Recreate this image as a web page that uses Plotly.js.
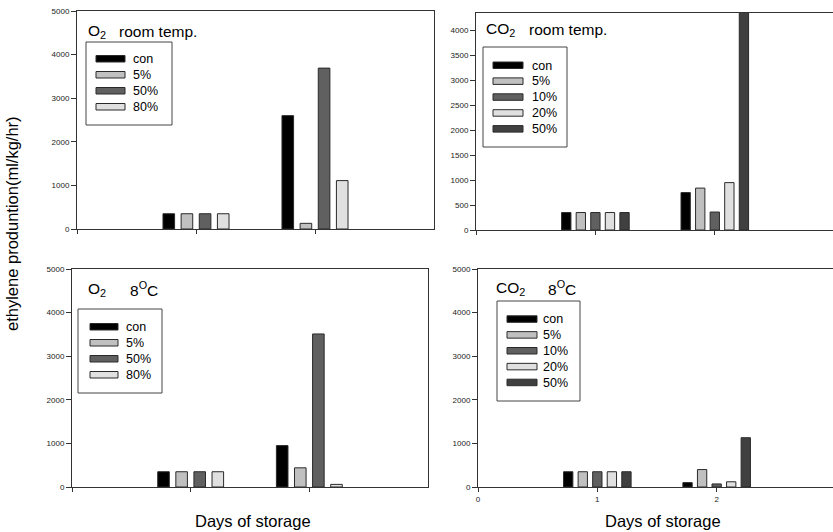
<!DOCTYPE html>
<html>
<head>
<meta charset="utf-8">
<script src="https://cdn.plot.ly/plotly-3.0.1.min.js"></script>
<style>
  html, body { margin: 0; padding: 0; background: #ffffff; }
  #chart { width: 833px; height: 532px; }
</style>
</head>
<body>
<div id="chart"></div>
<script>
// Storage days on the x axis
const days = [1, 2];
const xTickVals = [0, 1, 2];
const xTickText = ['0', '1', '2'];

// Treatment levels
const o2Levels = ['con', '5%', '50%', '80%'];
const co2Levels = ['con', '5%', '10%', '20%', '50%'];

// Ethylene production (ml/kg/hr) — O2, room temperature
const o2RoomCon = [350, 2600];
const o2Room5 = [350, 130];
const o2Room50 = [350, 3690];
const o2Room80 = [350, 1110];

// CO2, room temperature (the 50% bar on day 2 runs past the top of the axis)
const co2RoomCon = [350, 750];
const co2Room5 = [350, 840];
const co2Room10 = [350, 360];
const co2Room20 = [350, 950];
const co2Room50 = [350, 4600];

// O2, 8 °C
const o2ColdCon = [350, 950];
const o2Cold5 = [350, 440];
const o2Cold50 = [350, 3510];
const o2Cold80 = [350, 60];

// CO2, 8 °C
const co2ColdCon = [350, 100];
const co2Cold5 = [350, 400];
const co2Cold10 = [350, 70];
const co2Cold20 = [350, 120];
const co2Cold50 = [350, 1130];

// Grey fills per level
const o2Colors = ['#000000', '#c0c0c0', '#606060', '#e0e0e0'];
const co2Colors = ['#000000', '#c0c0c0', '#606060', '#e0e0e0', '#404040'];

const W = 833, H = 532;
const fx = p => p / W;
const fy = p => 1 - p / H;
const FONT = 'Arial, "Liberation Sans", sans-serif';

// Panel geometry in pixels
const panels = [
  { ax: 1, x0: 77, x1: 434, y0: 11, y1: 229, xmax: 3, ymax: 5000, dtick: 1000, mirrorY: true, showX: false,
    levels: o2Levels, colors: o2Colors, series: [o2RoomCon, o2Room5, o2Room50, o2Room80],
    gas: 'O<sub>2</sub>', gasX: 86, cond: 'room temp.', condX: 117, titleY: 31,
    leg: { x0: 86, x1: 172, y0: 42, y1: 125, sx0: 96, sx1: 125, tx: 131, r0: 59, step: 16 } },
  { ax: 2, x0: 476, x1: 833, y0: 13, y1: 230, xmax: 2.99, ymax: 4350, dtick: 500, mirrorY: false, showX: false,
    levels: co2Levels, colors: co2Colors, series: [co2RoomCon, co2Room5, co2Room10, co2Room20, co2Room50],
    gas: 'CO<sub>2</sub>', gasX: 484, cond: 'room temp.', condX: 527, titleY: 29,
    leg: { x0: 483, x1: 567, y0: 47, y1: 147, sx0: 493, sx1: 523, tx: 530, r0: 65.5, step: 15.9 } },
  { ax: 3, x0: 72, x1: 428, y0: 269, y1: 487, xmax: 3, ymax: 5000, dtick: 1000, mirrorY: true, showX: false,
    levels: o2Levels, colors: o2Colors, series: [o2ColdCon, o2Cold5, o2Cold50, o2Cold80],
    gas: 'O<sub>2</sub>', gasX: 86, cond: '8<sup>O</sup>C', condX: 128, titleY: 289,
    leg: { x0: 78, x1: 162, y0: 309, y1: 393, sx0: 90, sx1: 118, tx: 124, r0: 327, step: 16 } },
  { ax: 4, x0: 478, x1: 833, y0: 269, y1: 487, xmax: 2.975, ymax: 5000, dtick: 1000, mirrorY: false, showX: true,
    levels: co2Levels, colors: co2Colors, series: [co2ColdCon, co2Cold5, co2Cold10, co2Cold20, co2Cold50],
    gas: 'CO<sub>2</sub>', gasX: 494, cond: '8<sup>O</sup>C', condX: 546, titleY: 288,
    leg: { x0: 497, x1: 580, y0: 301, y1: 401, sx0: 507, sx1: 537, tx: 541, r0: 319.3, step: 15.85 } }
];

const traces = [];
const layout = {
  width: W, height: H,
  margin: { l: 0, r: 0, t: 0, b: 0 },
  paper_bgcolor: '#ffffff', plot_bgcolor: '#ffffff',
  showlegend: false,
  barmode: 'group',
  bargap: 0.39,
  bargroupgap: 0.36,
  font: { family: FONT, color: '#000000' },
  shapes: [],
  annotations: []
};

panels.forEach(p => {
  const xa = 'x' + (p.ax === 1 ? '' : p.ax);
  const ya = 'y' + (p.ax === 1 ? '' : p.ax);
  const xKey = 'xaxis' + (p.ax === 1 ? '' : p.ax);
  const yKey = 'yaxis' + (p.ax === 1 ? '' : p.ax);

  p.series.forEach((vals, i) => {
    traces.push({
      type: 'bar', x: days, y: vals, name: p.levels[i],
      xaxis: xa, yaxis: ya,
      marker: { color: p.colors[i], line: { color: '#2a2a2a', width: 1 } },
      hoverinfo: 'skip'
    });
  });

  layout[xKey] = {
    domain: [fx(p.x0), fx(p.x1)], anchor: ya,
    range: [0, p.xmax], tickvals: xTickVals, ticktext: xTickText,
    showticklabels: p.showX, ticks: 'outside', ticklen: 4, tickwidth: 1, tickcolor: '#333333',
    tickfont: { size: 8, color: '#222222', family: FONT },
    showline: true, linecolor: '#333333', linewidth: 1, mirror: true,
    showgrid: false, zeroline: false, fixedrange: true
  };
  layout[yKey] = {
    domain: [fy(p.y1), fy(p.y0)], anchor: xa,
    range: [0, p.ymax], dtick: p.dtick, tick0: 0,
    ticks: 'outside', ticklen: 5, tickwidth: 1, tickcolor: '#333333',
    tickfont: { size: 8, color: '#222222', family: FONT },
    showline: true, linecolor: '#333333', linewidth: 1, mirror: p.mirrorY,
    showgrid: false, zeroline: false, fixedrange: true
  };

  // Panel heading: gas and storage temperature
  layout.annotations.push({
    xref: 'paper', yref: 'paper', x: fx(p.gasX), y: fy(p.titleY),
    xanchor: 'left', yanchor: 'middle', showarrow: false,
    text: p.gas, font: { size: 15.5, family: FONT, color: '#000000' }
  });
  layout.annotations.push({
    xref: 'paper', yref: 'paper', x: fx(p.condX), y: fy(p.titleY),
    xanchor: 'left', yanchor: 'middle', showarrow: false,
    text: p.cond, font: { size: 15.5, family: FONT, color: '#000000' }
  });

  // Boxed key with wide flat swatches
  const L = p.leg;
  layout.shapes.push({
    type: 'rect', xref: 'paper', yref: 'paper',
    x0: fx(L.x0), x1: fx(L.x1), y0: fy(L.y1), y1: fy(L.y0),
    line: { color: '#444444', width: 1 }, fillcolor: '#ffffff'
  });
  p.levels.forEach((name, i) => {
    const cy = L.r0 + i * L.step;
    layout.shapes.push({
      type: 'rect', xref: 'paper', yref: 'paper',
      x0: fx(L.sx0), x1: fx(L.sx1), y0: fy(cy + 3), y1: fy(cy - 3.5),
      line: { color: '#2a2a2a', width: 1 }, fillcolor: p.colors[i]
    });
    layout.annotations.push({
      xref: 'paper', yref: 'paper', x: fx(L.tx), y: fy(cy),
      xanchor: 'left', yanchor: 'middle', showarrow: false,
      text: name, font: { size: 12.5, family: FONT, color: '#000000' }
    });
  });
});

// Shared axis titles
layout.annotations.push({
  xref: 'paper', yref: 'paper', x: fx(12), y: fy(224),
  xanchor: 'center', yanchor: 'middle', showarrow: false, textangle: -90,
  text: 'ethylene produntion(ml/kg/hr)', font: { size: 16.5, family: FONT, color: '#000000' }
});
[253, 663].forEach(cx => {
  layout.annotations.push({
    xref: 'paper', yref: 'paper', x: fx(cx), y: fy(521),
    xanchor: 'center', yanchor: 'middle', showarrow: false,
    text: 'Days of storage', font: { size: 16.5, family: FONT, color: '#000000' }
  });
});

Plotly.newPlot('chart', traces, layout, { staticPlot: true, displayModeBar: false });
</script>
</body>
</html>
